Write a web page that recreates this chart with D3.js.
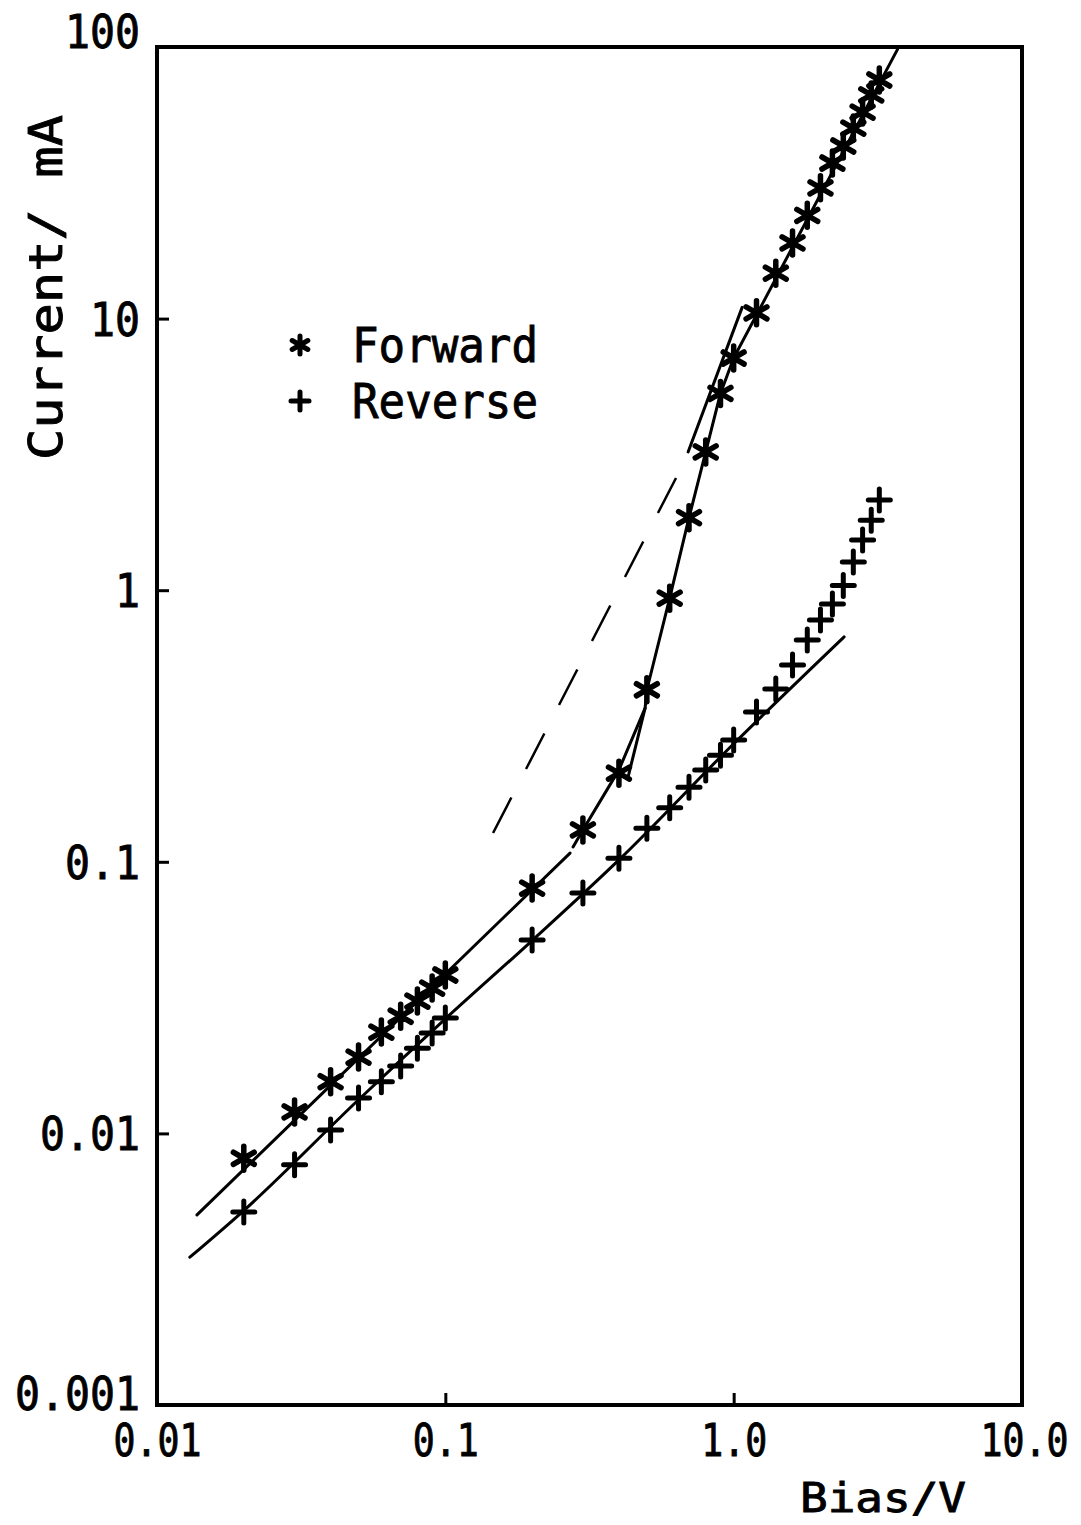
<!DOCTYPE html>
<html>
<head>
<meta charset="utf-8">
<script src="https://cdn.jsdelivr.net/npm/d3@7"></script>
<style>
  body { margin: 0; background: #fff; }
  text { font-family: "DejaVu Sans Mono", monospace; fill: #000; stroke: #000; stroke-width: 0.9px; }
</style>
</head>
<body>
<div id="main"></div>
<script>
// measured points (bias in V, current in mA)
const biasValues = [0.02, 0.03, 0.04, 0.05, 0.06, 0.07, 0.08, 0.09, 0.1, 0.2, 0.3, 0.4, 0.5, 0.6, 0.7, 0.8, 0.9, 1.0,
  1.2, 1.4, 1.6, 1.8, 2.0, 2.2, 2.4, 2.6, 2.8, 3.0, 3.2];
const forwardCurrent = [0.0081, 0.012, 0.0155, 0.0191, 0.0236, 0.027, 0.0307, 0.0343, 0.0383, 0.080, 0.131, 0.212, 0.43,
  0.935, 1.85, 3.23, 5.3, 7.16, 10.5, 14.7, 19.0, 24.0, 30.3, 37.4, 43.2, 50.3, 57.6, 66.6, 75.6];
const reverseCurrent = [0.00514, 0.00766, 0.0103, 0.0135, 0.0155, 0.0177, 0.0206, 0.0234, 0.0266, 0.0515, 0.0767, 0.103,
  0.133, 0.158, 0.188, 0.218, 0.247, 0.281, 0.356, 0.433, 0.53, 0.656, 0.777, 0.889, 1.04, 1.27, 1.53, 1.81, 2.15];

// hand drawn fit lines [bias, current]
const forwardLowFit = [[0.01376, 0.00501], [0.2707, 0.1077]];
const forwardHighFit = [[0.2773, 0.1134], [0.3, 0.131], [0.4, 0.218], [0.493, 0.368], [0.5, 0.43], [0.6, 0.935],
  [0.7, 1.85], [0.8, 3.23], [0.9, 5.3], [1.0, 7.16], [3.7, 98]];
const forwardKinkFit = [[0.4302, 0.205], [0.493, 0.368]];
const dashedFit = [[0.1464, 0.1276], [0.631, 2.59]];
const steepFit = [[0.695, 3.23], [1.07, 11.0]];
const reverseFit = [[0.0130, 0.0035], [0.02, 0.0052], [0.05, 0.0133], [0.1, 0.0264], [0.2, 0.0513], [0.4, 0.1016],
  [1.0, 0.272], [2.415, 0.673]];

const xTickValues = [0.01, 0.1, 1, 10];
const xTickLabels = ["0.01", "0.1", "1.0", "10.0"];
const yTickValues = [0.001, 0.01, 0.1, 1, 10, 100];
const yTickLabels = ["0.001", "0.01", "0.1", "1", "10", "100"];

const legendLabels = ["Forward", "Reverse"];
const xTitle = "Bias/V";
const yTitle = "Current/ mA";

class LogLogPlot {
  constructor(config) {
    this.config = config;
    this.svg = null;
    this.xScale = null;
    this.yScale = null;
    this.createSvg();
    this.createScales();
  }

  createSvg() {
    this.svg = d3.select(this.config.div)
      .append("svg")
      .attr("width", this.config.width)
      .attr("height", this.config.height);
  }

  createScales() {
    let c = this.config;
    this.xScale = d3.scaleLog().domain([0.01, 10]).range([c.left, c.right]);
    this.yScale = d3.scaleLog().domain([0.001, 100]).range([c.bottom, c.top]);
  }

  createAxis() {
    let c = this.config;
    let xAxis = d3.axisBottom(this.xScale)
      .tickValues(xTickValues)
      .tickSizeInner(-12).tickSizeOuter(0)
      .tickFormat((d, i) => xTickLabels[i]);
    let yAxis = d3.axisLeft(this.yScale)
      .tickValues(yTickValues)
      .tickSizeInner(-12).tickSizeOuter(0)
      .tickFormat((d, i) => yTickLabels[i]);

    let gx = this.svg.append("g")
      .attr("transform", `translate(0,${c.bottom})`)
      .call(xAxis);
    gx.select(".domain").remove();
    gx.selectAll("line").attr("stroke", "#000").attr("stroke-width", 3);
    let last = xTickValues.length - 1;
    gx.selectAll("text")
      .attr("y", 51)
      .attr("dy", 0)
      // last label sits against the page edge, so right-align it
      .attr("x", (d, i) => (i == last ? 46 : 0))
      .attr("text-anchor", (d, i) => (i == last ? "end" : "middle"))
      .style("font-size", "44px")
      .attr("textLength", function() { return this.textContent.length * 22; })
      .attr("lengthAdjust", "spacingAndGlyphs");

    let gy = this.svg.append("g")
      .attr("transform", `translate(${c.left},0)`)
      .call(yAxis);
    gy.select(".domain").remove();
    gy.selectAll("line").attr("stroke", "#000").attr("stroke-width", 3);
    gy.selectAll("text")
      .attr("x", -17)
      .attr("dy", (d, i) => (i == 0 ? "0.1em" : i == yTickValues.length - 1 ? "0.02em" : "0.36em"))
      .style("font-size", "46px")
      .attr("textLength", function() { return this.textContent.length * 25; })
      .attr("lengthAdjust", "spacingAndGlyphs");

    // frame
    this.svg.append("rect")
      .attr("x", c.left)
      .attr("y", c.top)
      .attr("width", c.right - c.left)
      .attr("height", c.bottom - c.top)
      .attr("fill", "none")
      .attr("stroke", "#000")
      .attr("stroke-width", 4);

    this.svg.append("text")
      .attr("x", 800)
      .attr("y", 1512)
      .style("font-size", "40px")
      .attr("textLength", 166)
      .attr("lengthAdjust", "spacingAndGlyphs")
      .text(xTitle);

    this.svg.append("text")
      .attr("transform", "translate(62,460) rotate(-90)")
      .style("font-size", "46px")
      .attr("textLength", 345)
      .attr("lengthAdjust", "spacingAndGlyphs")
      .text(yTitle);
  }

  renderLines() {
    let line = d3.line()
      .x(d => this.xScale(d[0]))
      .y(d => this.yScale(d[1]));
    let smooth = d3.line()
      .x(d => this.xScale(d[0]))
      .y(d => this.yScale(d[1]))
      .curve(d3.curveMonotoneX);

    let solid = [forwardLowFit, forwardHighFit, forwardKinkFit, steepFit];
    this.svg.append("g").selectAll("path")
      .data(solid)
      .enter()
      .append("path")
        .attr("d", line)
        .attr("fill", "none")
        .attr("stroke", "#000")
        .attr("stroke-width", 3)
        .attr("stroke-linecap", "round")
        .attr("stroke-linejoin", "round");

    this.svg.append("path")
      .attr("d", smooth(reverseFit))
      .attr("fill", "none")
      .attr("stroke", "#000")
      .attr("stroke-width", 3)
      .attr("stroke-linecap", "round");

    this.svg.append("path")
      .attr("d", line(dashedFit))
      .attr("fill", "none")
      .attr("stroke", "#000")
      .attr("stroke-width", 2.5)
      .attr("stroke-dasharray", "40,32");
  }

  asterisk(g, s, w) {
    let a = s * 0.87, b = s * 0.5;
    g.append("path")
      .attr("d", `M0,${-s}L0,${s}M${-a},${-b}L${a},${b}M${-a},${b}L${a},${-b}`)
      .attr("stroke", "#000")
      .attr("stroke-width", w)
      .attr("stroke-linecap", "round");
  }

  plus(g, s, w) {
    g.append("path")
      .attr("d", `M0,${-s}L0,${s}M${-s},0L${s},0`)
      .attr("stroke", "#000")
      .attr("stroke-width", w)
      .attr("stroke-linecap", "round");
  }

  renderMarkers() {
    let self = this;
    let fwd = biasValues.map((b, i) => ({ b: b, v: forwardCurrent[i] }));
    let rev = biasValues.map((b, i) => ({ b: b, v: reverseCurrent[i] }));

    this.svg.append("g").selectAll("g")
      .data(fwd)
      .enter()
      .append("g")
        .attr("transform", d => `translate(${this.xScale(d.b)},${this.yScale(d.v)})`)
        .each(function() { self.asterisk(d3.select(this), 12, 5.5); });

    this.svg.append("g").selectAll("g")
      .data(rev)
      .enter()
      .append("g")
        .attr("transform", d => `translate(${this.xScale(d.b)},${this.yScale(d.v)})`)
        .each(function() { self.plus(d3.select(this), 11, 5); });
  }

  renderLegend() {
    let lg = this.svg.append("g").attr("transform", "translate(300,345)");
    legendLabels.forEach((label, i) => {
      let g = lg.append("g").attr("transform", `translate(0,${i * 56})`);
      if (i == 0) this.asterisk(g, 9, 5); else this.plus(g, 9, 5);
      g.append("text")
        .attr("x", 52)
        .attr("y", 17)
        .style("font-size", "48px")
        .attr("textLength", 186)
        .attr("lengthAdjust", "spacingAndGlyphs")
        .text(label);
    });
  }
}

let plotConfig = { div: "#main", width: 1081, height: 1525, left: 157, right: 1022, top: 47, bottom: 1405 };
let plot = new LogLogPlot(plotConfig);
plot.createAxis();
plot.renderLines();
plot.renderMarkers();
plot.renderLegend();
</script>
</body>
</html>
